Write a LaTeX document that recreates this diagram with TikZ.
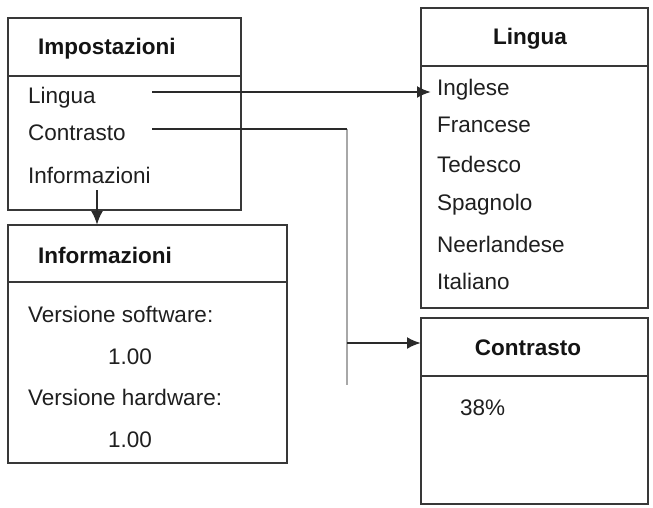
\documentclass[tikz,border=0pt]{standalone}
\usepackage{fontspec}
\setmainfont{Liberation Sans}
\usetikzlibrary{arrows.meta}
\definecolor{boxline}{HTML}{383838}
\definecolor{conline}{HTML}{2A2A2A}
\definecolor{lightline}{HTML}{A8A8A8}
\tikzset{
  x=1pt, y=-1pt,
  box/.style={draw=boxline, line width=2.6pt, fill=white, inner sep=0pt, outer sep=0pt, anchor=north west},
  divider/.style={draw=boxline, line width=2.6pt},
  item/.style={anchor=base west, inner sep=0pt, font=\fontsize{22.5}{26}\selectfont, text=black!88},
  citem/.style={anchor=base, inner sep=0pt, font=\fontsize{22.5}{26}\selectfont, text=black!88},
  head/.style={anchor=base west, inner sep=0pt, font=\fontsize{22.5}{26}\selectfont\bfseries, text=black!92},
  chead/.style={anchor=base, inner sep=0pt, font=\fontsize{22.5}{26}\selectfont\bfseries, text=black!92},
  conn/.style={draw=conline, line width=2.4pt},
  arr/.style={conn, -{Latex[length=14pt,width=12pt]}},
  grayconn/.style={draw=lightline, line width=2.6pt}
}
\begin{document}
\begin{tikzpicture}
\useasboundingbox (0,0) rectangle (653,507);
% boxes
\node[box, minimum width=233pt, minimum height=192pt] (imp) at (8,18) {};
\node[box, minimum width=279pt, minimum height=238pt] (inf) at (8,225) {};
\node[box, minimum width=227pt, minimum height=300pt] (lin) at (421,8) {};
\node[box, minimum width=227pt, minimum height=186pt] (con) at (421,318) {};
% dividers
\coordinate (impd) at (8,76);
\draw[divider] (impd -| imp.west) -- (impd -| imp.east);
\coordinate (infd) at (8,282);
\draw[divider] (infd -| inf.west) -- (infd -| inf.east);
\coordinate (lind) at (421,66);
\draw[divider] (lind -| lin.west) -- (lind -| lin.east);
\coordinate (cond) at (421,376);
\draw[divider] (cond -| con.west) -- (cond -| con.east);
% Impostazioni
\node[head] (imph) at (38,54) {Impostazioni};
\node[item] (impl) at (28,103) {Lingua};
\node[item] (impc) at (28,140) {Contrasto};
\node[item] (impi) at (28,183) {Informazioni};
% Informazioni
\node[head] (infh) at (38,263) {Informazioni};
\node[item] (infs) at (28,322) {Versione software:};
\node[citem] (infsv) at (130,364) {1.00};
\node[item] (infw) at (28,405) {Versione hardware:};
\node[citem] (infwv) at (130,447) {1.00};
% Lingua
\node[chead] (linh) at (530,44) {Lingua};
\node[item] (l1) at (437,95) {Inglese};
\node[item] (l2) at (437,132) {Francese};
\node[item] (l3) at (437,172) {Tedesco};
\node[item] (l4) at (437,210) {Spagnolo};
\node[item] (l5) at (437,252) {Neerlandese};
\node[item] (l6) at (437,289) {Italiano};
% Contrasto
\node[chead] (conh) at (528,355) {Contrasto};
\node[item] (cval) at (460,415) {38\%};
% connectors
\coordinate (ls) at (152,92);
\coordinate (le) at (431,92);
\draw[arr] (ls) -- (le);
\coordinate (cs) at (152,129);
\coordinate (ccorner) at (347,129);
\coordinate (cbottom) at (347,385);
\coordinate (cbranch) at (347,343);
\draw[grayconn] (ccorner) -- (cbottom);
\draw[conn] (cs) -- (ccorner);
\draw[arr] (cbranch) -- (cbranch -| con.west);
\coordinate (is) at (97,190);
\draw[arr] (is) -- (is |- inf.north);
\end{tikzpicture}
\end{document}
